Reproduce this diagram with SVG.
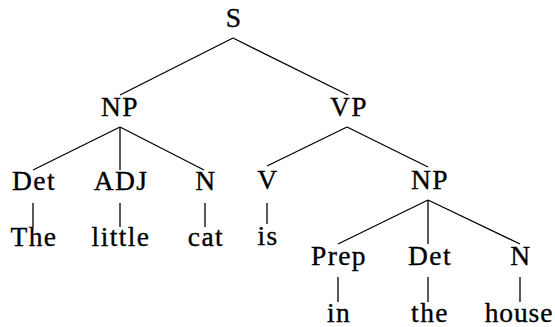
<svg xmlns="http://www.w3.org/2000/svg" width="555" height="327" viewBox="0 0 555 327">
<style>
text{font-family:"Liberation Serif","DejaVu Serif",serif;font-size:27.5px;letter-spacing:1.4px;fill:#000;stroke:#000;stroke-width:0.35;text-anchor:middle}
line{stroke:#000;stroke-width:1.3}
</style>
<rect width="555" height="327" fill="#fff"/>
<g id="connectors">
<line x1="233" y1="38" x2="120" y2="95"/>
<line x1="233" y1="38" x2="348" y2="95"/>
<line x1="120" y1="127" x2="33" y2="170"/>
<line x1="120" y1="127" x2="120" y2="170"/>
<line x1="120" y1="127" x2="204" y2="170"/>
<line x1="347" y1="127" x2="267" y2="166"/>
<line x1="347" y1="127" x2="428" y2="167"/>
<line x1="428" y1="200" x2="338" y2="244"/>
<line x1="428" y1="200" x2="428" y2="244"/>
<line x1="428" y1="200" x2="520" y2="244"/>
<line x1="33" y1="203" x2="33" y2="227"/>
<line x1="120" y1="203" x2="120" y2="227"/>
<line x1="205" y1="203" x2="205" y2="227"/>
<line x1="267" y1="203" x2="267" y2="224"/>
<line x1="338" y1="277" x2="338" y2="302"/>
<line x1="428" y1="277" x2="428" y2="302"/>
<line x1="520" y1="277" x2="520" y2="302"/>
</g>
<g id="S"><text x="234" y="27">S</text></g>
<g id="NP1"><text x="120" y="116">NP</text></g>
<g id="VP"><text x="349" y="116">VP</text></g>
<g id="Det1"><text x="34" y="190">Det</text></g>
<g id="ADJ"><text x="121" y="190">ADJ</text></g>
<g id="N1"><text x="206" y="190">N</text></g>
<g id="V"><text x="268" y="189">V</text></g>
<g id="NP2"><text x="430" y="189">NP</text></g>
<g id="The"><text x="34" y="246">The</text></g>
<g id="little"><text x="121" y="246">little</text></g>
<g id="cat"><text x="206" y="246">cat</text></g>
<g id="is"><text x="268" y="245">is</text></g>
<g id="Prep"><text x="339" y="265">Prep</text></g>
<g id="Det2"><text x="430" y="265">Det</text></g>
<g id="N2"><text x="521" y="265">N</text></g>
<g id="in"><text x="339" y="322">in</text></g>
<g id="the"><text x="430" y="322">the</text></g>
<g id="house"><text x="519" y="322" style="letter-spacing:0.9px">house</text></g>
</svg>
